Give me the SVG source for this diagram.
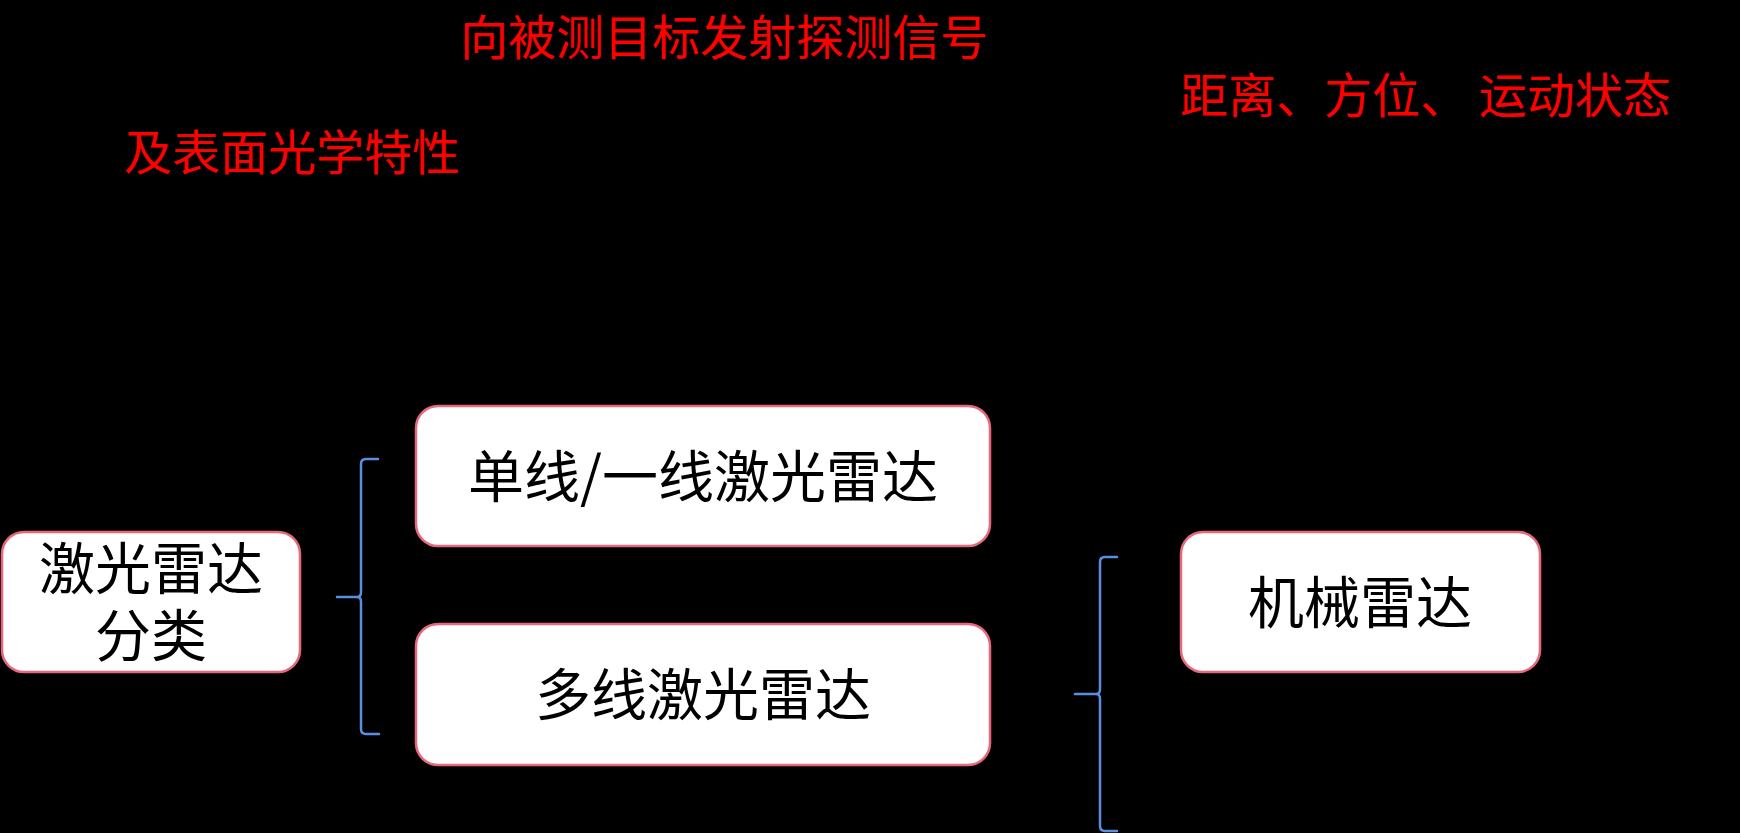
<svg xmlns="http://www.w3.org/2000/svg" width="1740" height="833" viewBox="0 0 1740 833">
<style>
.red{font-family:"Noto Sans CJK SC","Noto Sans CJK JP",sans-serif;font-size:48px;fill:#ff0000}
.box{fill:#ffffff;stroke:#e8677a;stroke-width:2.5}
.lbl{font-family:"Noto Sans CJK SC","Noto Sans CJK JP",sans-serif;font-size:56px;fill:#000000;text-anchor:middle}
.brace{fill:none;stroke:#5b8ee0;stroke-width:2.5;stroke-linejoin:round;stroke-linecap:round}
</style>
<rect x="0" y="0" width="1740" height="833" fill="#000000"/>
<g id="annotations">
<text class="red" x="460" y="55">向被测目标发射探测信号</text>
<text class="red" x="1180" y="113" xml:space="preserve">距离、方位、 运动状态</text>
<text class="red" x="124" y="170">及表面光学特性</text>
</g>
<g id="connectors">
<path class="brace" d="M378,459 H366 Q361,459 361,464 V592 Q361,597 357,597 H337 M357,597 Q361,597 361,602 V729 Q361,734 366,734 H379"/>
<path class="brace" d="M1117,557 H1105 Q1100,557 1100,562 V689 Q1100,694 1096,694 H1075 M1096,694 Q1100,694 1100,699 V826 Q1100,831 1105,831 H1117"/>
</g>
<g id="node-classify">
<rect class="box" x="2" y="532" width="298" height="140" rx="22" ry="22"/>
<text class="lbl" x="151" y="589"><tspan x="151" y="589">激光雷达</tspan><tspan x="151" y="656">分类</tspan></text>
</g>
<g id="node-single">
<rect class="box" x="416" y="406" width="574" height="140" rx="22" ry="22"/>
<text class="lbl" x="703" y="497">单线/一线激光雷达</text>
</g>
<g id="node-multi">
<rect class="box" x="416" y="624" width="574" height="141" rx="22" ry="22"/>
<text class="lbl" x="703" y="715">多线激光雷达</text>
</g>
<g id="node-mech">
<rect class="box" x="1181" y="532" width="359" height="140" rx="22" ry="22"/>
<text class="lbl" x="1360" y="623">机械雷达</text>
</g>
</svg>
